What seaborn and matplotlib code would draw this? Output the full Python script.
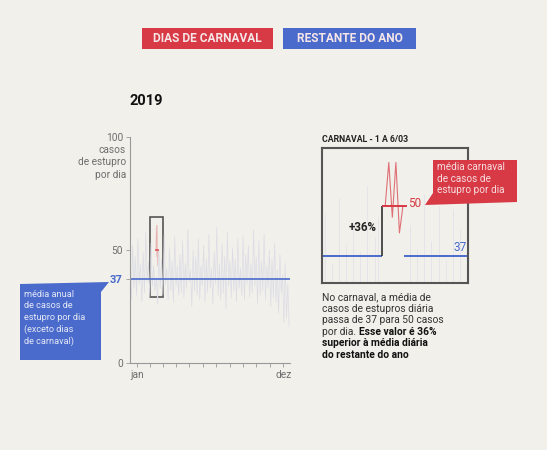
import numpy as np
import pandas as pd
import matplotlib
matplotlib.use('Agg')
import matplotlib.pyplot as plt
from matplotlib.patches import Polygon, Rectangle
import seaborn as sns

# Data
year = 2019
media_ano = 37
media_carnaval = 50
aumento = '+36%'
month_days = [31, 28, 31, 30, 31, 30, 31, 31, 30, 31, 30, 31]
month_labels = ['jan', '', '', '', '', '', '', '', '', '', '', 'dez']

casos_ano = [41, 28, 52, 33, 47, 30, 55, 35, 44, 27,
             49, 31, 58, 36, 45, 29, 53, 34, 43, 32,
             38, 26, 50, 33, 46, 30, 57, 35, 42, 28,
             51, 32, 45, 27, 56, 34, 43, 30, 48, 31,
             54, 29, 44, 33, 59, 36, 41, 25, 50, 32,
             47, 30, 55, 28, 43, 34, 52, 27, 46, 31,
             57, 33, 42, 26, 49, 35, 60, 30, 44, 28,
             53, 31, 47, 24, 58, 34, 45, 29, 51, 32,
             46, 27, 55, 33, 42, 30, 56, 28, 48, 35,
             52, 29, 44, 31, 59, 34, 47, 26, 54, 30,
             45, 32, 57, 28, 43, 33, 50, 25, 46, 29,
             53, 27, 41, 22, 48, 31, 39, 18, 44, 20, 35, 16]
passo_dias = 3

# carnaval 1 to 6 March
carnaval_dias = ['1/03', '2/03', '3/03', '4/03', '5/03', '6/03']
carnaval_casos = [50, 61, 47, 61, 43, 50]
carnaval_inicio = 59  # day of year of 1/03

# days around carnaval shown in the zoom box (offset from 1/03)
entorno_offset = [-17, -15, -13, -11, -9, -7, -5, -3, -2, 7, 9, 11, 13, 15, 17, 19, 21, 23]
entorno_casos = [48, 35, 52, 40, 46, 38, 55, 42, 47, 45, 39, 53, 41, 50, 36, 49, 44, 40]

RED = '#d73a45'
BLUE = '#4a6bcc'
GREY = '#6e6e6e'
BG = '#f1f0ea'

sns.set_theme(style='white')
plt.rcParams['font.family'] = ['Roboto', 'DejaVu Sans']

W, H = 547, 450
fig = plt.figure(figsize=(W / 100, H / 100), dpi=100, facecolor=BG)


def px(x, y):
    return x / W, 1 - y / H


def ax_box(left, top, right, bottom):
    return [left / W, 1 - bottom / H, (right - left) / W, (bottom - top) / H]


# legend boxes
for (l, r), label, col in [((142, 273), 'DIAS DE CARNAVAL', RED),
                           ((283, 416), 'RESTANTE DO ANO', BLUE)]:
    fig.patches.append(Rectangle(px(l, 49), (r - l) / W, 21 / H, transform=fig.transFigure,
                                 facecolor=col, edgecolor='none'))
    fig.text(*px((l + r) / 2, 39), label, ha='center', va='center', color='#f6e6e8',
             fontsize=8.6, fontweight='bold')

fig.text(*px(146, 101), str(year), ha='center', va='center', fontsize=10.5,
         fontweight='bold', color='#111')

# main chart
ax = fig.add_axes(ax_box(130, 137, 290, 363))
ax.set_facecolor('none')
days = np.arange(len(casos_ano)) * passo_dias
sns.lineplot(x=days, y=casos_ano, color='#dcdce6', linewidth=0.5, ax=ax)
c_days = carnaval_inicio + np.arange(len(carnaval_casos))
sns.lineplot(x=c_days, y=carnaval_casos, color=RED, linewidth=0.4, alpha=0.35, ax=ax)
ax.plot([carnaval_inicio + 2.5], [media_carnaval], marker='_', color=RED, markersize=3,
        mew=1.2, alpha=0.8)
ax.axhline(media_ano, color=BLUE, lw=1.2)
ax.add_patch(Rectangle((46, 29), 29, 35.6, fill=False, edgecolor='#555', lw=1.2))
ax.set_xlim(0, 365)
ax.set_ylim(0, 100)

month_mid = np.cumsum([0] + month_days[:-1]) + np.array(month_days) / 2
ax.set_xticks(month_mid)
ax.set_xticklabels(month_labels)
ax.set_yticks([0, media_ano, 50, 100])
ax.set_yticklabels(['0', str(media_ano), '50', '100'])
ax.tick_params(axis='both', length=3, width=0.6, color='#999', labelcolor=GREY,
               labelsize=7.3, pad=2, left=True, bottom=True)
for t in ax.get_yticklabels():
    if t.get_text() == str(media_ano):
        t.set_color(BLUE)
        t.set_fontweight('bold')
        t.set_fontsize(8)
for side in ['top', 'right']:
    ax.spines[side].set_visible(False)
for side in ['left', 'bottom']:
    ax.spines[side].set_color('#999')
    ax.spines[side].set_linewidth(0.8)

fig.text(*px(126, 145), 'casos\nde estupro\npor dia', ha='right', va='top',
         fontsize=7.3, color=GREY, linespacing=1.3)

# blue callout
fig.patches.append(Polygon([px(20, 284), px(109, 282), px(101, 292), px(101, 360), px(20, 360)],
                           closed=True, transform=fig.transFigure, facecolor=BLUE, edgecolor='none'))
fig.text(*px(24, 290), 'média anual\nde casos de\nestupro por dia\n(exceto dias\nde carnaval)',
         ha='left', va='top', fontsize=6.6, color='#e4e8f6', linespacing=1.33)

# zoom box
axi = fig.add_axes(ax_box(322, 148, 468, 283))
axi.set_facecolor('none')
axi.set_xlim(-17.8, 23.3)
axi.set_ylim(30.2, 64.7)
axi.vlines(entorno_offset, 30.2, entorno_casos, color='#e2e2ea', lw=0.6)
axi.hlines(media_ano, -17.8, -1, color=BLUE, lw=1.4)
axi.hlines(media_ano, 5.2, 23.3, color=BLUE, lw=1.4)
axi.vlines(-1, media_ano, media_carnaval, color='#333', lw=1.2)
axi.hlines(media_carnaval, -1, 6.2, color=RED, lw=1.4)
sns.lineplot(x=np.arange(len(carnaval_casos)), y=carnaval_casos, color=RED, lw=0.8,
             alpha=0.7, ax=axi)
axi.text(-2.3, 44.3, aumento, ha='right', va='center', fontsize=8.3, fontweight='bold', color='#222')
axi.text(6.5, 50.5, str(media_carnaval), ha='left', va='center', fontsize=8.5, color=RED)
axi.text(23, 39.3, str(media_ano), ha='right', va='center', fontsize=8.5, color=BLUE)
axi.set_xticks([])
axi.set_yticks([])
for s in axi.spines.values():
    s.set_visible(True)
    s.set_color('#555')
    s.set_linewidth(1.5)

fig.text(*px(322, 139), 'CARNAVAL - 1 A 6/03', ha='left', va='center', fontsize=6.3,
         fontweight='bold', color='#222')

# red callout
fig.patches.append(Polygon([px(433, 160), px(517, 160), px(517, 202), px(425, 205), px(433, 193)],
                           closed=True, transform=fig.transFigure, facecolor=RED, edgecolor='none'))
fig.text(*px(437, 162), 'média carnaval\nde casos de\nestupro por dia', ha='left', va='top',
         fontsize=7.2, color='#f6dde0', linespacing=1.2)

# explanation text
lines = [('No carnaval, a média de', None),
         ('casos de estupros diária', None),
         ('passa de 37 para 50 casos', None),
         ('por dia. ', 'Esse valor é 36%'),
         (None, 'superior à média diária'),
         (None, 'do restante do ano')]
fig.canvas.draw()
renderer = fig.canvas.get_renderer()
y0 = 297
for i, (normal, bold) in enumerate(lines):
    x, y = px(322, y0 + i * 11.6)
    if normal:
        t = fig.text(x, y, normal, ha='left', va='center', fontsize=7.4, color='#333')
        bb = t.get_window_extent(renderer)
        x = bb.x1 / fig.bbox.width
    if bold:
        fig.text(x, y, bold, ha='left', va='center', fontsize=7.4, color='#111', fontweight='bold')

fig.savefig('out.png', dpi=100, facecolor=BG)
